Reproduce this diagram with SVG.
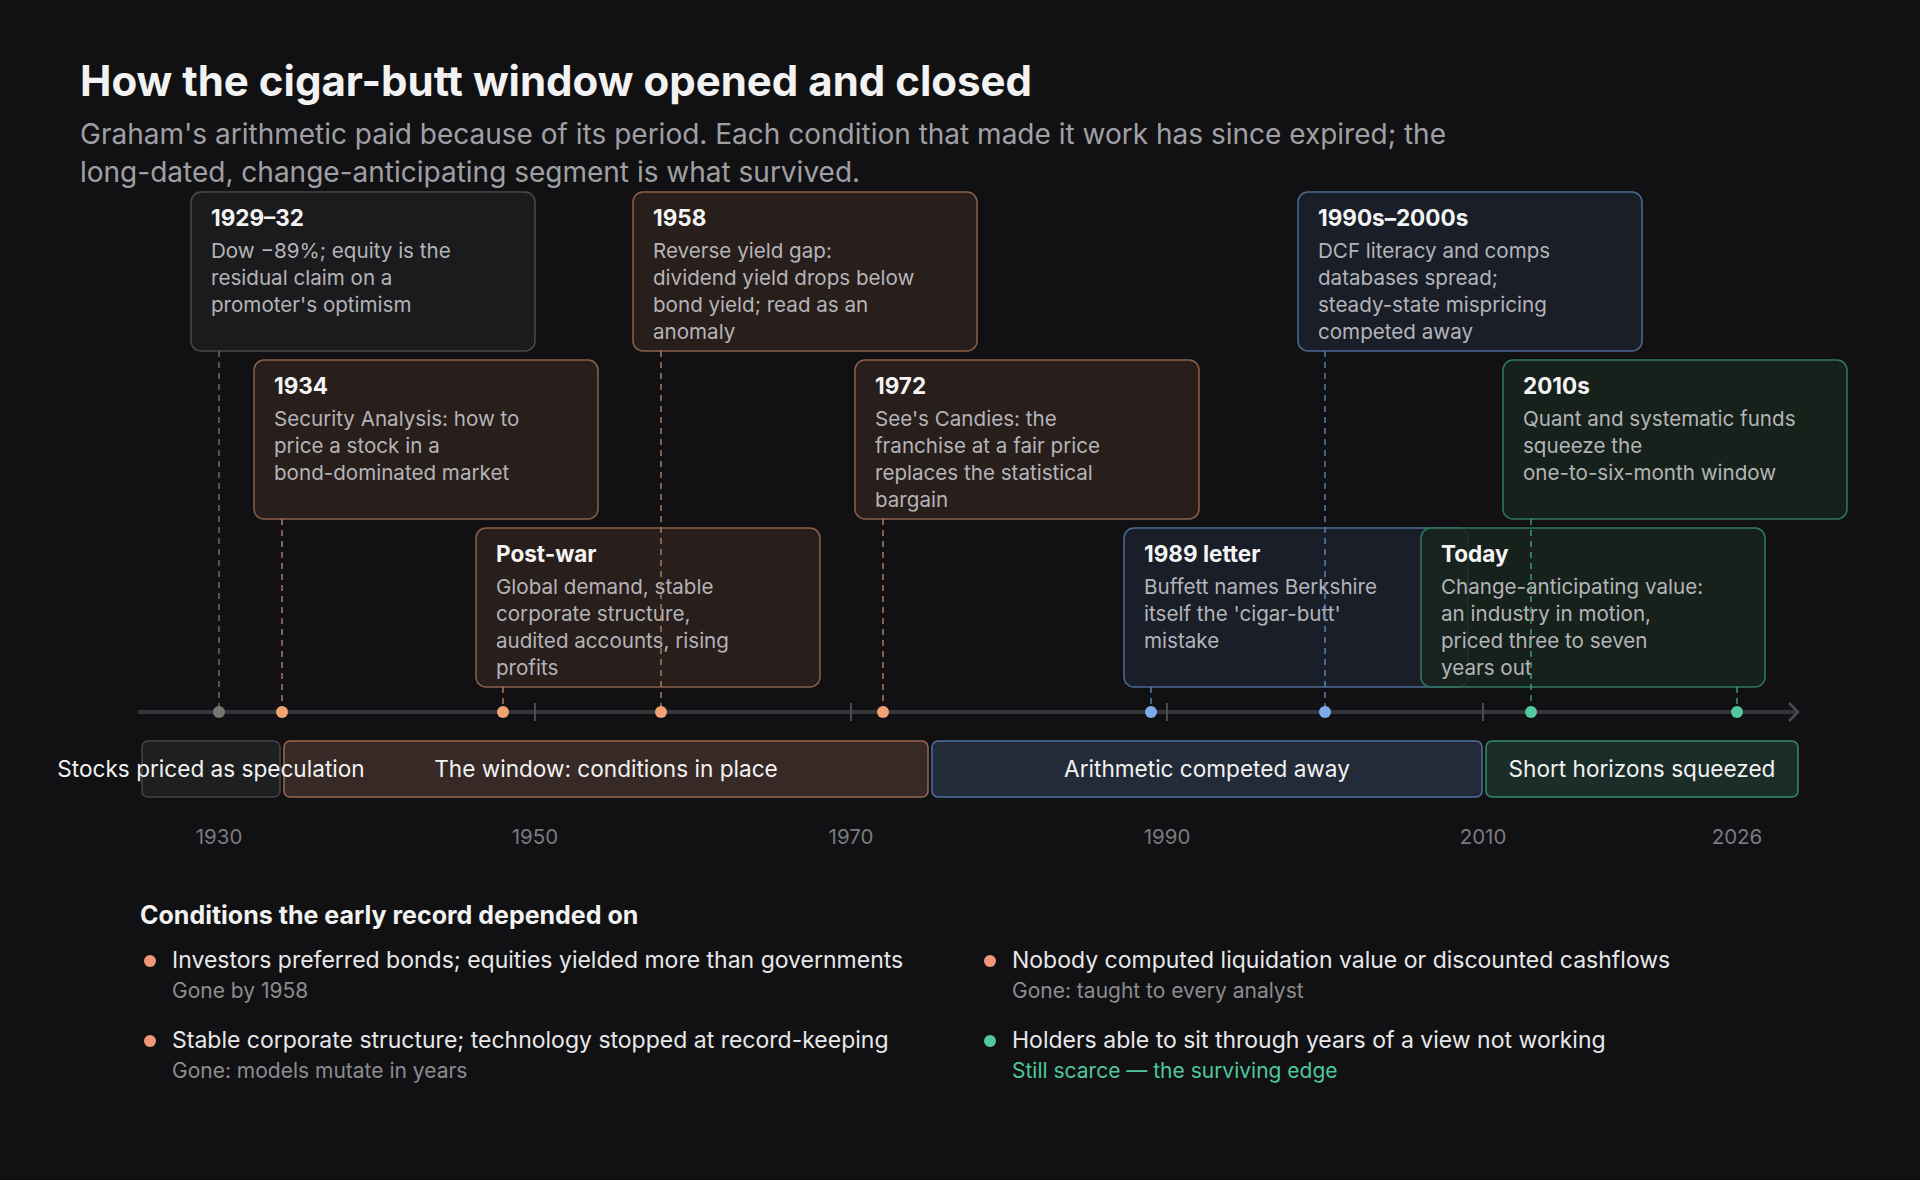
<svg xmlns="http://www.w3.org/2000/svg" width="1920" height="1180" viewBox="0 0 1920 1180">
<style>
text{font-family:Inter,"Noto Sans","Liberation Sans",sans-serif}
.h1{font-size:42px;font-weight:700;fill:#f2f2f2}
.sub{font-size:28px;fill:#a0a0a4}
.ct{font-size:22.5px;font-weight:700;fill:#f4f4f4}
.cb{font-size:20.6px;fill:#b4b4b8}
.card{stroke-width:1.5}
.g{fill:#1b1b1e;stroke:#4a4a4e}
.o{fill:#2a1f1d;fill-opacity:.92;stroke:#8a6048}
.b{fill:#1b202a;fill-opacity:.92;stroke:#4c6a92}
.gr{fill:#19251f;fill-opacity:.85;stroke:#2f7a5e}
.dash{stroke-width:1.5;stroke-dasharray:6 5;fill:none}
.band{font-size:22.6px;fill:#f2f2f2;text-anchor:middle}
.tick{font-size:20.5px;fill:#7a7a80;text-anchor:middle}
.lh{font-size:25px;font-weight:700;fill:#f2f2f2}
.lm{font-size:23px;fill:#e8e8ea}
.ls{font-size:21px;fill:#8c8c90}
</style>
<defs><marker id="arr" markerWidth="12" markerHeight="20" refX="10" refY="10" orient="auto" markerUnits="userSpaceOnUse"><path d="M1 1 L10 10 L1 19" fill="none" stroke="#4a4a50" stroke-width="2.5"/></marker></defs>
<rect width="1920" height="1180" fill="#111113"/>
<text class="h1" x="80" y="96">How the cigar-butt window opened and closed</text>
<text class="sub" x="80" y="144">Graham's arithmetic paid because of its period. Each condition that made it work has since expired; the</text>
<text class="sub" x="80" y="182">long-dated, change-anticipating segment is what survived.</text>

<g id="axis">
<line x1="138" y1="712" x2="1798" y2="712" stroke="#34343a" stroke-width="4" marker-end="url(#arr)"/>
<g stroke="#4a4a50" stroke-width="2"><line x1="535" y1="703" x2="535" y2="721"/><line x1="851" y1="703" x2="851" y2="721"/><line x1="1167" y1="703" x2="1167" y2="721"/><line x1="1483" y1="703" x2="1483" y2="721"/></g>
<text class="tick" x="219" y="844">1930</text><text class="tick" x="535" y="844">1950</text><text class="tick" x="851" y="844">1970</text><text class="tick" x="1167" y="844">1990</text><text class="tick" x="1483" y="844">2010</text><text class="tick" x="1737" y="844">2026</text>
</g>

<g id="c1929"><rect class="card g" x="191" y="192" width="344" height="159" rx="10"/><text class="ct" x="211" y="226">1929–32</text><text class="cb" x="211" y="258">Dow −89%; equity is the</text><text class="cb" x="211" y="285">residual claim on a</text><text class="cb" x="211" y="312">promoter's optimism</text></g>
<g id="c1958"><rect class="card o" x="633" y="192" width="344" height="159" rx="10"/><text class="ct" x="653" y="226">1958</text><text class="cb" x="653" y="258">Reverse yield gap:</text><text class="cb" x="653" y="285">dividend yield drops below</text><text class="cb" x="653" y="312">bond yield; read as an</text><text class="cb" x="653" y="339">anomaly</text></g>
<g id="c1990s"><rect class="card b" x="1298" y="192" width="344" height="159" rx="10"/><text class="ct" x="1318" y="226">1990s–2000s</text><text class="cb" x="1318" y="258">DCF literacy and comps</text><text class="cb" x="1318" y="285">databases spread;</text><text class="cb" x="1318" y="312">steady-state mispricing</text><text class="cb" x="1318" y="339">competed away</text></g>
<g id="c1934"><rect class="card o" x="254" y="360" width="344" height="159" rx="10"/><text class="ct" x="274" y="394">1934</text><text class="cb" x="274" y="426">Security Analysis: how to</text><text class="cb" x="274" y="453">price a stock in a</text><text class="cb" x="274" y="480">bond-dominated market</text></g>
<g id="c1972"><rect class="card o" x="855" y="360" width="344" height="159" rx="10"/><text class="ct" x="875" y="394">1972</text><text class="cb" x="875" y="426">See's Candies: the</text><text class="cb" x="875" y="453">franchise at a fair price</text><text class="cb" x="875" y="480">replaces the statistical</text><text class="cb" x="875" y="507">bargain</text></g>
<g id="c2010s"><rect class="card gr" x="1503" y="360" width="344" height="159" rx="10"/><text class="ct" x="1523" y="394">2010s</text><text class="cb" x="1523" y="426">Quant and systematic funds</text><text class="cb" x="1523" y="453">squeeze the</text><text class="cb" x="1523" y="480">one-to-six-month window</text></g>
<g id="cpostwar"><rect class="card o" x="476" y="528" width="344" height="159" rx="10"/><text class="ct" x="496" y="562">Post-war</text><text class="cb" x="496" y="594">Global demand, stable</text><text class="cb" x="496" y="621">corporate structure,</text><text class="cb" x="496" y="648">audited accounts, rising</text><text class="cb" x="496" y="675">profits</text></g>
<g id="c1989"><rect class="card b" x="1124" y="528" width="344" height="159" rx="10"/><text class="ct" x="1144" y="562">1989 letter</text><text class="cb" x="1144" y="594">Buffett names Berkshire</text><text class="cb" x="1144" y="621">itself the 'cigar-butt'</text><text class="cb" x="1144" y="648">mistake</text></g>
<g id="ctoday"><rect class="card gr" x="1421" y="528" width="344" height="159" rx="10"/><text class="ct" x="1441" y="562">Today</text><text class="cb" x="1441" y="594">Change-anticipating value:</text><text class="cb" x="1441" y="621">an industry in motion,</text><text class="cb" x="1441" y="648">priced three to seven</text><text class="cb" x="1441" y="675">years out</text></g>

<g id="connectors">
<line class="dash" x1="219" y1="351" x2="219" y2="712" stroke="#6a6a6e"/>
<line class="dash" x1="282" y1="519" x2="282" y2="712" stroke="#b07a58"/>
<line class="dash" x1="503" y1="687" x2="503" y2="712" stroke="#b07a58"/>
<line class="dash" x1="661" y1="351" x2="661" y2="712" stroke="#b07a58"/>
<line class="dash" x1="883" y1="519" x2="883" y2="712" stroke="#b07a58"/>
<line class="dash" x1="1151" y1="687" x2="1151" y2="712" stroke="#5a80b0"/>
<line class="dash" x1="1325" y1="351" x2="1325" y2="712" stroke="#5a80b0"/>
<line class="dash" x1="1531" y1="519" x2="1531" y2="712" stroke="#3a9a78"/>
<line class="dash" x1="1737" y1="687" x2="1737" y2="712" stroke="#3a9a78"/>
<circle cx="219" cy="712" r="6" fill="#77776f"/>
<circle cx="282" cy="712" r="6" fill="#f0a274"/>
<circle cx="503" cy="712" r="6" fill="#f0a274"/>
<circle cx="661" cy="712" r="6" fill="#f0a274"/>
<circle cx="883" cy="712" r="6" fill="#f0a274"/>
<circle cx="1151" cy="712" r="6" fill="#7eaaea"/>
<circle cx="1325" cy="712" r="6" fill="#7eaaea"/>
<circle cx="1531" cy="712" r="6" fill="#52c89e"/>
<circle cx="1737" cy="712" r="6" fill="#52c89e"/>
</g>

<g id="bands">
<rect x="142" y="741" width="138" height="56" rx="6" fill="#1e1f21" stroke="#45454a" stroke-width="1.5"/>
<rect x="284" y="741" width="644" height="56" rx="6" fill="#372a26" stroke="#9a6a50" stroke-width="1.5"/>
<rect x="932" y="741" width="550" height="56" rx="6" fill="#232b38" stroke="#4f72a2" stroke-width="1.5"/>
<rect x="1486" y="741" width="312" height="56" rx="6" fill="#1b2d29" stroke="#3a8a6c" stroke-width="1.5"/>
<text class="band" x="211" y="777">Stocks priced as speculation</text>
<text class="band" x="606" y="777">The window: conditions in place</text>
<text class="band" x="1207" y="777">Arithmetic competed away</text>
<text class="band" x="1642" y="777">Short horizons squeezed</text>
</g>

<g id="legend">
<text class="lh" x="140" y="924">Conditions the early record depended on</text>
<circle cx="150" cy="961" r="6" fill="#f0977a"/>
<text class="lm" x="172" y="968">Investors preferred bonds; equities yielded more than governments</text>
<text class="ls" x="172" y="998">Gone by 1958</text>
<circle cx="150" cy="1041" r="6" fill="#f0977a"/>
<text class="lm" x="172" y="1048">Stable corporate structure; technology stopped at record-keeping</text>
<text class="ls" x="172" y="1078">Gone: models mutate in years</text>
<circle cx="990" cy="961" r="6" fill="#f0977a"/>
<text class="lm" x="1012" y="968">Nobody computed liquidation value or discounted cashflows</text>
<text class="ls" x="1012" y="998">Gone: taught to every analyst</text>
<circle cx="990" cy="1041" r="6" fill="#52c89e"/>
<text class="lm" x="1012" y="1048">Holders able to sit through years of a view not working</text>
<text class="ls" x="1012" y="1078" style="fill:#4fc79b">Still scarce — the surviving edge</text>
</g>
</svg>
